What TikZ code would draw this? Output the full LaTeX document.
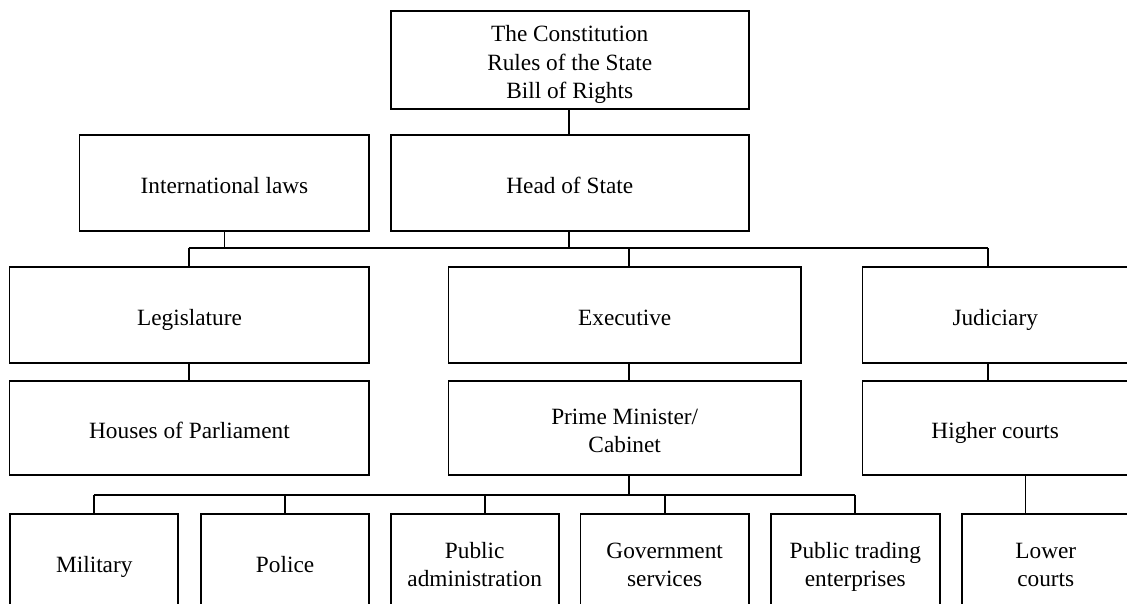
\documentclass[tikz,border=0pt]{standalone}
\usepackage{fontspec}
\setmainfont{Liberation Serif}
\newcommand{\toprule}{\rule{0pt}{29.5pt}}
\begin{document}
\begin{tikzpicture}[x=1pt,y=-1pt,
  box/.style={draw=black,line width=1.7pt,inner sep=0pt,align=center,
    font=\fontsize{23.3}{28.5}\selectfont},
  link/.style={draw=black,line width=1.7pt}]
\useasboundingbox (0,0) rectangle (1127,603);
% top
\node[box,minimum width=358.1pt,minimum height=97.7pt] (const) at (569.75,59.85) {\toprule The Constitution\\Rules of the State\\Bill of Rights\strut};
\node[box,minimum width=358.1pt,minimum height=95.7pt] (head) at (569.75,182.85) {\toprule Head of State\strut};
\node[box,minimum width=289.7pt,minimum height=95.7pt] (intl) at (224.45,182.85) {\toprule International laws\strut};
% branches
\node[box,minimum width=359.7pt,minimum height=96pt] (leg) at (189.45,314.7) {\toprule Legislature\strut};
\node[box,minimum width=352.4pt,minimum height=96pt] (exec) at (624.7,314.7) {\toprule Executive\strut};
\node[box,minimum width=265.6pt,minimum height=96pt] (jud) at (995.2,314.7) {\toprule Judiciary\strut};
\node[box,minimum width=359.7pt,minimum height=94.3pt] (houses) at (189.45,427.85) {\toprule Houses of Parliament\strut};
\node[box,minimum width=352.4pt,minimum height=94.3pt] (pm) at (624.7,427.85) {\toprule Prime Minister/\\Cabinet\strut};
\node[box,minimum width=265.6pt,minimum height=94.3pt] (higher) at (995.2,427.85) {\toprule Higher courts\strut};
% bottom row
\node[box,minimum width=168pt,minimum height=95.7pt] (mil) at (94.3,562.15) {\toprule Military\strut};
\node[box,minimum width=168.4pt,minimum height=95.7pt] (pol) at (285.1,562.15) {\toprule Police\strut};
\node[box,minimum width=168pt,minimum height=95.7pt] (padm) at (474.7,562.15) {\toprule Public\\administration\strut};
\node[box,minimum width=168.2pt,minimum height=95.7pt] (gov) at (664.7,562.15) {\toprule Government\\services\strut};
\node[box,minimum width=168.9pt,minimum height=95.7pt] (ptr) at (855.25,562.15) {\toprule Public trading\\enterprises\strut};
\node[box,minimum width=168pt,minimum height=95.7pt] (low) at (1045.8,562.15) {\toprule Lower\\courts\strut};
% bus coordinates
\coordinate (c0) at (569,0);
\coordinate (bi) at (224.6,248.3);
\coordinate (bh) at (569,248.3);
\coordinate (bl) at (188.7,248.3);
\coordinate (be) at (628.7,248.3);
\coordinate (bj) at (988,248.3);
\coordinate (cj) at (988,0);
\coordinate (cl) at (188.7,0);
\coordinate (ce) at (628.7,0);
\coordinate (ch) at (1025.5,0);
\coordinate (p0) at (628.7,495);
\coordinate (p1) at (93.8,495);
\coordinate (p2) at (284.7,495);
\coordinate (p3) at (484.9,495);
\coordinate (p4) at (664.9,495);
\coordinate (p5) at (855.1,495);
% connectors
\draw[link] (const.south -| c0) -- (head.north -| c0);
\draw[link] (intl.south -| bi) -- (bi);
\draw[link] (head.south -| bh) -- (bh);
\draw[link] (bl) -- (bj);
\draw[link] (bl) -- (leg.north -| bl);
\draw[link] (be) -- (exec.north -| be);
\draw[link] (bj) -- (jud.north -| bj);
\draw[link] (leg.south -| cl) -- (houses.north -| cl);
\draw[link] (exec.south -| ce) -- (pm.north -| ce);
\draw[link] (jud.south -| cj) -- (higher.north -| cj);
\draw[link] (higher.south -| ch) -- (low.north -| ch);
\draw[link] (pm.south -| p0) -- (p0);
\draw[link] (p1) -- (p5);
\draw[link] (p1) -- (mil.north -| p1);
\draw[link] (p2) -- (pol.north -| p2);
\draw[link] (p3) -- (padm.north -| p3);
\draw[link] (p4) -- (gov.north -| p4);
\draw[link] (p5) -- (ptr.north -| p5);
\end{tikzpicture}
\end{document}
